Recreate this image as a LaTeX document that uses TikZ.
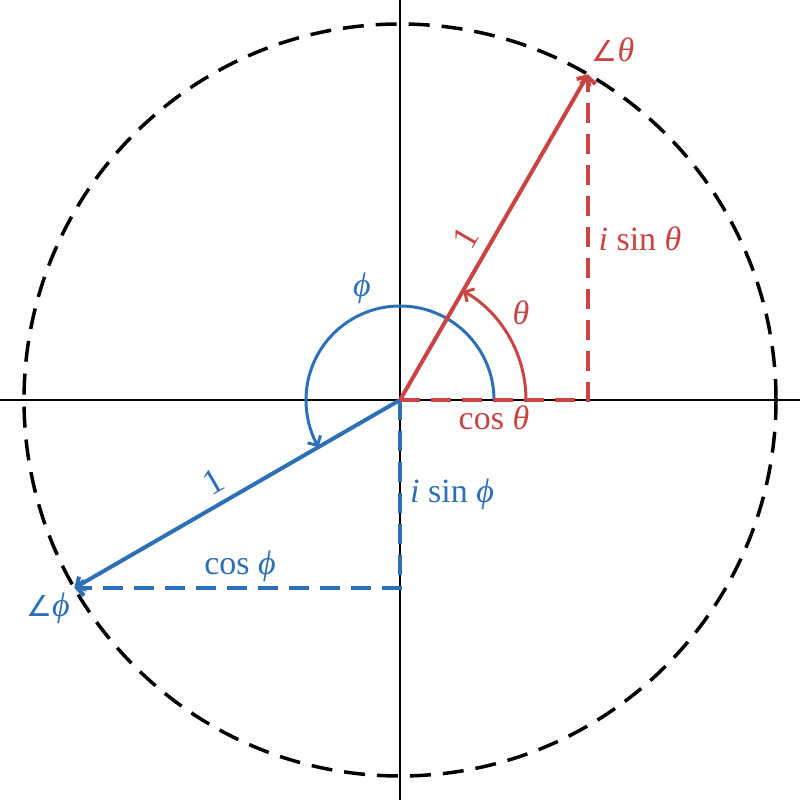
\documentclass[tikz,border=0pt]{standalone}
\usepackage{fontspec}
\setmainfont{Liberation Serif}
\newfontfamily\symfont{DejaVu Sans}[Scale=0.85]
\usetikzlibrary{arrows.meta,calc}
\definecolor{cred}{RGB}{201,68,66}
\definecolor{cblue}{RGB}{46,112,182}
\newcommand{\angsym}{{\symfont ∠}}
\begin{document}
\begin{tikzpicture}[x=1pt,y=1pt,
  tip/.style={-{Straight Barb[length=7pt,width=15pt]}},
  vec/.style={line width=4pt, tip},
  proj/.style={line width=4pt, dash pattern=on 20pt off 11pt, tip},
  angarc/.style={line width=3pt, tip},
  lab/.style={font=\fontsize{34}{40}\selectfont, inner sep=0pt},
  onelab/.style={font=\fontsize{36}{42}\selectfont, inner sep=0pt}]
\useasboundingbox (0,0) rectangle (800,800);
\coordinate (O) at (400,400);
\coordinate (L) at (0,400);
\coordinate (R) at (800,400);
\coordinate (B) at (400,0);
\coordinate (Tp) at (400,800);
\draw[line width=2pt] (L) -- (R);
\draw[line width=2pt] (B) -- (Tp);
\draw[line width=3.5pt, dash pattern=on 21pt off 12pt] (O) circle[radius=376];
% blue
\coordinate (P) at ($(O)+(210:376)$);
\coordinate (PC) at ($(O)+(0,-188)$);
\coordinate (PA) at ($(O)+(94,0)$);
\draw[cblue, vec] (O) -- (P);
\draw[cblue, proj] (O) -- (PC) -- (P);
\draw[cblue, angarc] (PA) arc[start angle=0, end angle=210, radius=94];
% red
\coordinate (T) at ($(O)+(60:376)$);
\coordinate (TC) at ($(O)+(188,0)$);
\coordinate (TA) at ($(O)+(126,0)$);
\draw[cred, proj] (O) -- (TC) -- (T);
\draw[cred, vec] (O) -- (T);
\draw[cred, angarc] (TA) arc[start angle=0, end angle=60, radius=126];
% labels
\node[lab, text=cred] (lt) at (613,750) {\angsym\textit{θ}};
\node[lab, text=cred] (lst) at (640,561) {\textit{i} sin \textit{θ}};
\node[onelab, text=cred, rotate=60] (l1t) at (466,562) {1};
\node[lab, text=cred] (lth) at (521,487) {\textit{θ}};
\node[lab, text=cred] (lct) at (494,382) {cos \textit{θ}};
\node[lab, text=cblue] (lph) at (362,512) {\textit{ϕ}};
\node[onelab, text=cblue, rotate=30] (l1p) at (213,318) {1};
\node[lab, text=cblue] (lsp) at (452,306) {\textit{i} sin \textit{ϕ}};
\node[lab, text=cblue] (lcp) at (240,234) {cos \textit{ϕ}};
\node[lab, text=cblue] (lp) at (48,192) {\angsym\textit{ϕ}};
\end{tikzpicture}
\end{document}
